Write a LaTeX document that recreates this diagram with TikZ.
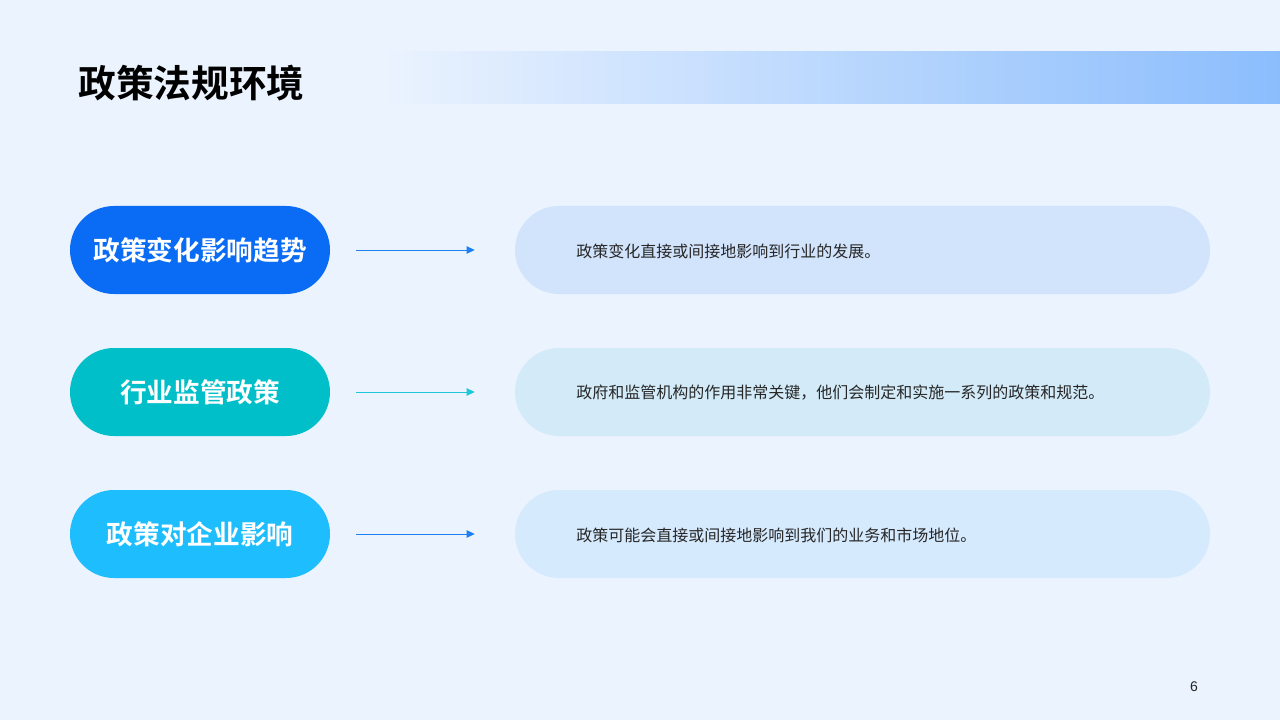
\documentclass[tikz,border=0pt]{standalone}
\usepackage{fontspec}
\setmainfont{Liberation Sans}
\newfontfamily\cjk[BoldFont={* Bold}]{Noto Sans CJK SC}
\usetikzlibrary{arrows.meta}
\definecolor{bg}{HTML}{EBF3FE}
\definecolor{barend}{HTML}{8BBDFD}
\definecolor{pA}{HTML}{0A6CF5}
\definecolor{pB}{HTML}{00BFC9}
\definecolor{pC}{HTML}{1EBEFE}
\definecolor{bA}{HTML}{D1E4FC}
\definecolor{bB}{HTML}{D3EBF8}
\definecolor{bC}{HTML}{D6EAFE}
\definecolor{arA}{HTML}{1E80F0}
\definecolor{arB}{HTML}{1CC8D8}
\tikzset{
  pill/.style={rounded corners=33pt, minimum width=195pt, minimum height=66pt, inner sep=0pt, text=white, font=\cjk\bfseries\fontsize{20}{22}\selectfont},
  desc/.style={rounded corners=33pt, minimum width=521.25pt, minimum height=66pt, inner sep=0pt},
  desctext/.style={anchor=west, inner sep=0pt, font=\cjk\fontsize{12}{14}\selectfont, text=black!85},
  conn/.style={line width=0.75pt, -{Triangle[length=6pt,width=5.5pt]}, shorten <=19.5pt, shorten >=30pt}
}
\begin{document}
\begin{tikzpicture}[x=0.75pt,y=-0.75pt]
\useasboundingbox (0,0) rectangle (1280,720);
\fill[bg] (0,0) rectangle (1280,720);
\shade[left color=bg, right color=barend] (380,52) rectangle (1280,104);
\node[anchor=west, inner sep=0pt, font=\cjk\bfseries\fontsize{28.3}{32}\selectfont, text=black] (title) at (78,83) {政策法规环境};

\node[pill, fill=pA] (p1) at (200,250) {政策变化影响趋势};
\node[pill, fill=pB] (p2) at (200,392) {行业监管政策};
\node[pill, fill=pC] (p3) at (200,534) {政策对企业影响};

\node[desc, fill=bA] (d1) at (862.5,250) {};
\node[desc, fill=bB] (d2) at (862.5,392) {};
\node[desc, fill=bC] (d3) at (862.5,534) {};

\node[desctext] (t1) at (576,251) {政策变化直接或间接地影响到行业的发展。};
\node[desctext] (t2) at (576,393) {政府和监管机构的作用非常关键，他们会制定和实施一系列的政策和规范。};
\node[desctext] (t3) at (576,535) {政策可能会直接或间接地影响到我们的业务和市场地位。};

\draw[conn, arA] (p1) -- (d1);
\draw[conn, arB] (p2) -- (d2);
\draw[conn, arA] (p3) -- (d3);

\node[font=\fontsize{10.5}{12}\selectfont, text=black!85] (num) at (1194,687) {6};
\end{tikzpicture}
\end{document}
